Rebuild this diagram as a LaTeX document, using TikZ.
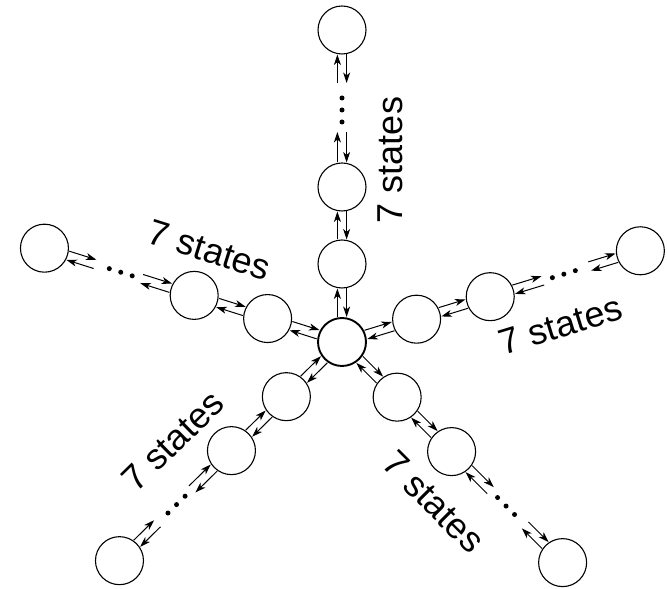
\documentclass[tikz,border=0pt]{standalone}
\usepackage{fontspec}
\setmainfont{Liberation Sans}
\usetikzlibrary{calc,arrows.meta}
\newcommand\pairarr[4]{%
  \draw[arr] ($(#1)!#3!(#2)!4.6pt!90:(#2)$) -- ($(#2)!#4!(#1)!4.6pt!-90:(#1)$);
  \draw[arr] ($(#2)!#4!(#1)!4.6pt!90:(#1)$) -- ($(#1)!#3!(#2)!4.6pt!-90:(#2)$);
}
\begin{document}
\begin{tikzpicture}[x=1pt,y=1pt,
  st/.style={circle,draw,line width=1.1pt,minimum size=48pt,inner sep=0pt,outer sep=0pt},
  hub/.style={st,line width=1.9pt},
  arr/.style={line width=1pt,-{Stealth[length=10.5pt,width=7pt,inset=3pt]}},
  dotmark/.style={circle,fill,inner sep=0pt,minimum size=5pt},
  lbl/.style={font=\fontsize{36}{40}\selectfont,inner sep=0pt}]
\useasboundingbox (0,0) rectangle (667,589);
\coordinate (O) at (342,247);
\node[hub] (c) at (O) {};
\foreach \name/\ang/\lal/\lrot in {u/90/182/90, l/162.5/154/-17.5, r/17/214/17, ll/224.5/190/44.5, lr/-45/178/-45} {
  \node[st] (\name-n1) at ($(O)+(\ang:78)$) {};
  \node[st] (\name-n2) at ($(O)+(\ang:155)$) {};
  \node[st] (\name-n3) at ($(O)+(\ang:312)$) {};
  \coordinate (\name-e1) at ($(O)+(\ang:210)$);
  \coordinate (\name-e2) at ($(O)+(\ang:259)$);
  \node[dotmark] (\name-d1) at ($(O)+(\ang:220)$) {};
  \node[dotmark] (\name-d2) at ($(O)+(\ang:232)$) {};
  \node[dotmark] (\name-d3) at ($(O)+(\ang:244)$) {};
  \pairarr{c}{\name-n1}{25pt}{24.5pt}
  \pairarr{\name-n1}{\name-n2}{24.5pt}{24.5pt}
  \pairarr{\name-n2}{\name-e1}{24.5pt}{0pt}
  \pairarr{\name-e2}{\name-n3}{0pt}{24.5pt}
  \node[lbl,rotate=\lrot] (\name-lab) at ($(O)+(\ang:\lal)+(\ang-90:48)$) {7 states};
}
\end{tikzpicture}
\end{document}
